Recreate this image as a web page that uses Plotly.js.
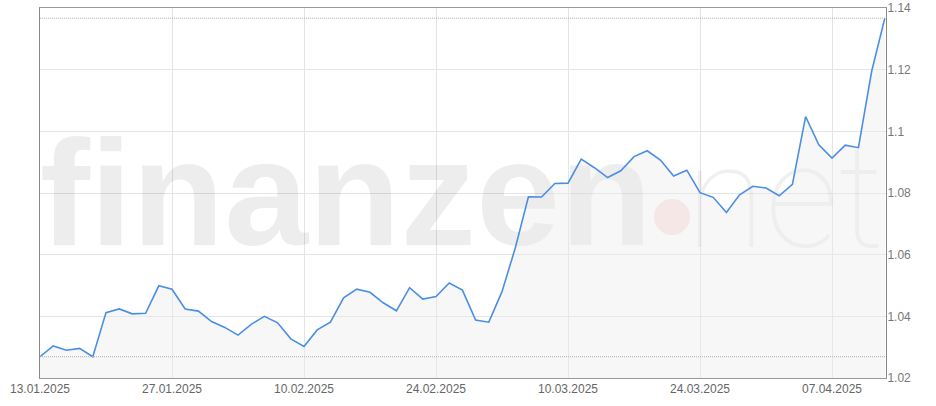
<!DOCTYPE html>
<html>
<head>
<meta charset="utf-8">
<script src="https://cdn.plot.ly/plotly-3.0.1.min.js"></script>
<style>html,body{margin:0;padding:0;background:#fff;}#chart{width:936px;height:406px;}</style>
</head>
<body>
<div id="chart"></div>
<script>
// Trading days 13.01.2025 - 11.04.2025
var dates = [
  "13.01.2025","14.01.2025","15.01.2025","16.01.2025","17.01.2025",
  "20.01.2025","21.01.2025","22.01.2025","23.01.2025","24.01.2025",
  "27.01.2025","28.01.2025","29.01.2025","30.01.2025","31.01.2025",
  "03.02.2025","04.02.2025","05.02.2025","06.02.2025","07.02.2025",
  "10.02.2025","11.02.2025","12.02.2025","13.02.2025","14.02.2025",
  "17.02.2025","18.02.2025","19.02.2025","20.02.2025","21.02.2025",
  "24.02.2025","25.02.2025","26.02.2025","27.02.2025","28.02.2025",
  "03.03.2025","04.03.2025","05.03.2025","06.03.2025","07.03.2025",
  "10.03.2025","11.03.2025","12.03.2025","13.03.2025","14.03.2025",
  "17.03.2025","18.03.2025","19.03.2025","20.03.2025","21.03.2025",
  "24.03.2025","25.03.2025","26.03.2025","27.03.2025","28.03.2025",
  "31.03.2025","01.04.2025","02.04.2025","03.04.2025","04.04.2025",
  "07.04.2025","08.04.2025","09.04.2025","10.04.2025","11.04.2025"
];
var values = [
  1.0269,1.0304,1.0290,1.0296,1.0269,
  1.0412,1.0424,1.0408,1.0410,1.0499,
  1.0488,1.0424,1.0417,1.0383,1.0364,
  1.0339,1.0374,1.0400,1.0379,1.0327,
  1.0302,1.0356,1.0381,1.0460,1.0488,
  1.0478,1.0444,1.0418,1.0493,1.0456,
  1.0464,1.0508,1.0485,1.0388,1.0381,
  1.0480,1.0621,1.0788,1.0787,1.0831,
  1.0832,1.0910,1.0882,1.0850,1.0872,
  1.0918,1.0937,1.0907,1.0855,1.0874,
  1.0801,1.0786,1.0737,1.0794,1.0822,
  1.0816,1.0791,1.0828,1.1048,1.0956,
  1.0913,1.0955,1.0947,1.1194,1.1367
];
var xTickLabels = ["13.01.2025","27.01.2025","10.02.2025","24.02.2025","10.03.2025","24.03.2025","07.04.2025"];
var yTickValues = [1.02,1.04,1.06,1.08,1.10,1.12,1.14];
var watermarkWords = ["finanzen","net"];

var maxV = Math.max.apply(null, values);
var minV = Math.min.apply(null, values);

var traces = [
  // watermark (base, hidden axes in plot-pixel units)
  {x:[306], y:[171], xaxis:'x', yaxis:'y', mode:'text', text:[watermarkWords[0]], textposition:'middle center',
   textfont:{family:'Liberation Sans, Arial, sans-serif', size:151, weight:700, color:'rgba(0,0,0,0.07)'},
   hoverinfo:'skip', showlegend:false},
  {x:[632], y:[161], xaxis:'x', yaxis:'y', mode:'markers',
   marker:{size:36, color:'rgba(225,90,60,0.16)', line:{width:0}}, hoverinfo:'skip', showlegend:false},
  {x:[745], y:[167], xaxis:'x', yaxis:'y', mode:'text', text:[watermarkWords[1]], textposition:'middle center',
   textfont:{family:'Roboto, Inter, sans-serif', size:145, weight:100, color:'rgba(0,0,0,0.06)'},
   hoverinfo:'skip', showlegend:false},
  // data
  {x:dates, y:values, xaxis:'x2', yaxis:'y2', type:'scatter', mode:'lines',
   line:{color:'#4a8fe3', width:1.6}, fill:'tozeroy', fillcolor:'rgba(234,235,238,0.4)',
   hoverinfo:'x+y', showlegend:false}
];

var layout = {
  width:936, height:406,
  margin:{l:40, r:50, t:8, b:28, pad:0},
  paper_bgcolor:'#ffffff', plot_bgcolor:'#ffffff',
  showlegend:false,
  xaxis:{range:[0,846], visible:false, fixedrange:true},
  yaxis:{range:[0,370], visible:false, fixedrange:true},
  xaxis2:{overlaying:'x', anchor:'y2', type:'category', range:[0, dates.length-1+0.09],
    tickmode:'array', tickvals:xTickLabels, ticktext:xTickLabels,
    showgrid:true, gridcolor:'#e4e4e4', gridwidth:1,
    showline:true, linecolor:'#999999', linewidth:1, mirror:true,
    ticks:'', tickfont:{family:'Liberation Sans, Arial, sans-serif', size:12, color:'#666666'},
    zeroline:false},
  yaxis2:{overlaying:'y', anchor:'x2', side:'right', range:[1.02,1.14],
    tickmode:'array', tickvals:yTickValues,
    ticktext:yTickValues.map(function(v){return String(+v.toFixed(2));}),
    showgrid:true, gridcolor:'#e4e4e4', gridwidth:1,
    showline:true, linecolor:'#888888', linewidth:1, mirror:true,
    ticks:'', ticklabelstandoff:-2,
    tickfont:{family:'Liberation Sans, Arial, sans-serif', size:12, color:'#777777'},
    zeroline:false},
  shapes:[
    {type:'line', xref:'x2 domain', yref:'y2', x0:0, x1:1, y0:maxV, y1:maxV,
     line:{color:'#b0b0b0', width:1, dash:'1px,1px'}},
    {type:'line', xref:'x2 domain', yref:'y2', x0:0, x1:1, y0:minV, y1:minV,
     line:{color:'#b0b0b0', width:1, dash:'1px,1px'}}
  ]
};

Plotly.newPlot('chart', traces, layout, {displayModeBar:false, staticPlot:true});
</script>
</body>
</html>
